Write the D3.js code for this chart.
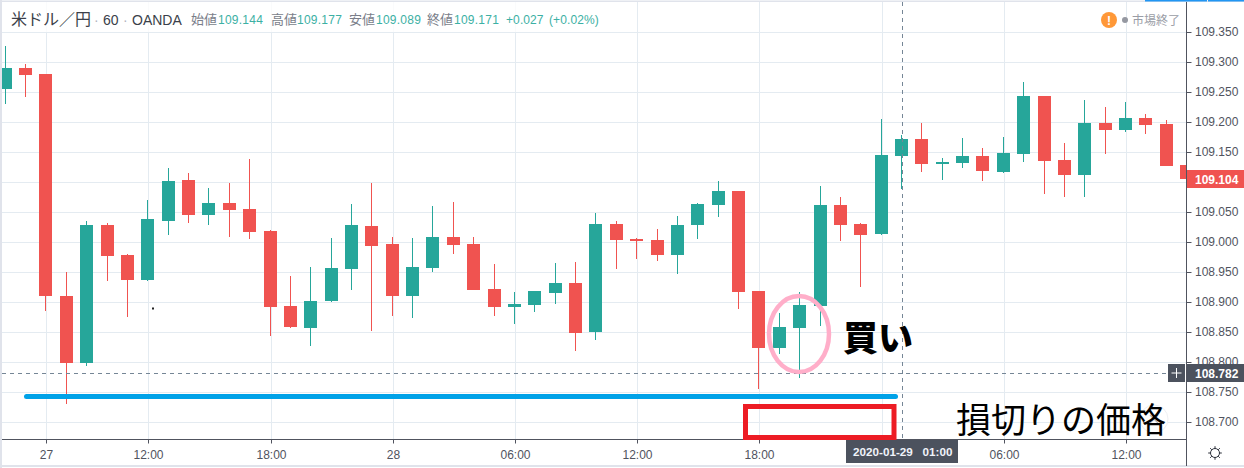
<!DOCTYPE html>
<html lang="ja"><head><meta charset="utf-8">
<script src="https://cdnjs.cloudflare.com/ajax/libs/d3/7.8.5/d3.min.js"></script>
<style>
html,body{margin:0;padding:0;background:#fff;overflow:hidden}
svg{display:block}
text{font-family:"Liberation Sans",Arial,sans-serif}
.jp{font-family:"Noto Sans CJK JP",sans-serif}
</style></head><body><div id="chart"></div>
<script>
const opens =[109.254,109.289,109.279,108.910,108.799,109.028,108.978,108.936,109.035,109.103,109.045,109.065,109.055,109.018,108.893,108.857,108.901,108.955,109.026,108.996,108.910,108.956,109.008,108.996,108.921,108.891,108.895,108.915,108.931,108.850,109.030,109.005,109.003,108.978,109.028,109.061,109.085,108.918,108.823,108.857,108.893,109.061,109.030,109.013,109.143,109.171,109.130,109.131,109.143,109.116,109.146,109.243,109.136,109.111,109.198,109.186,109.206,109.196,109.128];
const highs =[109.326,109.296,109.279,108.950,109.035,109.031,108.980,109.070,109.123,109.115,109.090,109.098,109.138,109.020,108.943,108.958,109.006,109.063,109.098,109.008,109.006,109.060,109.066,109.008,108.963,108.916,108.918,108.965,108.966,109.048,109.035,109.006,109.021,109.043,109.065,109.101,109.085,108.918,108.882,108.916,109.093,109.075,109.031,109.204,109.178,109.198,109.140,109.173,109.156,109.174,109.266,109.243,109.164,109.236,109.224,109.233,109.213,109.203,109.128];
const lows  =[109.229,109.241,108.885,108.730,108.793,108.935,108.875,108.935,109.011,109.031,109.028,109.008,109.005,108.843,108.857,108.827,108.900,108.920,108.852,108.877,108.873,108.950,108.980,108.920,108.877,108.863,108.883,108.896,108.818,108.837,108.955,108.971,108.968,108.946,109.005,109.041,108.888,108.755,108.813,108.773,108.860,109.001,108.925,109.011,109.088,109.116,109.103,109.123,109.101,109.115,109.133,109.080,109.075,109.075,109.146,109.183,109.179,109.126,109.103];
const closes=[109.289,109.278,108.910,108.799,109.028,108.976,108.936,109.038,109.101,109.045,109.065,109.053,109.016,108.891,108.858,108.901,108.956,109.028,108.993,108.910,108.958,109.008,108.995,108.920,108.891,108.896,108.918,108.931,108.848,109.030,109.003,109.001,108.978,109.028,109.063,109.085,108.916,108.823,108.858,108.895,109.061,109.028,109.011,109.144,109.171,109.130,109.133,109.143,109.118,109.148,109.243,109.135,109.111,109.198,109.186,109.206,109.194,109.126,109.104];
const priceTicks=[109.35,109.30,109.25,109.20,109.15,109.10,109.05,109.00,108.95,108.90,108.85,108.80,108.75,108.70];
const hiddenPriceTicks=[109.10];
const timeTickIndex=[2,7,13,19,25,31,37,43,49,55];
const timeTickLabels=["27","12:00","18:00","28","06:00","12:00","18:00","","06:00","12:00"];
const legendItems=[["始値","109.144",191,218],["高値","109.177",271,297],["安値","109.089",349,376],["終値","109.171",427,454]];
const lastPrice=109.104, crossPrice=108.782, crossIndex=44, stopPrice=108.7437;

const W=1244,H=468,GREEN="#26a69a",RED="#f05350",GRID="#e4ebf1",AX="#50535e",LBL="#4c525e";
const x=d3.scaleLinear().domain([0,58]).range([5.2,1186.66]);
const y=d3.scaleLinear().domain([108.70,109.35]).range([422.3,31.6]);
const col=i=>Math.floor(x(i));
const gridX=i=>col(i)+1.5;
const py=v=>Math.round(y(v));
const candles=opens.map((o,i)=>({i,o,h:highs[i],l:lows[i],c:closes[i]}));

const svg=d3.select("#chart").append("svg").attr("width",W).attr("height",H);
svg.append("defs").append("clipPath").attr("id","pane").append("rect").attr("x",2).attr("y",2).attr("width",1184).attr("height",437);
svg.append("rect").attr("width",W).attr("height",H).attr("fill","#fff");

// frame
svg.append("rect").attr("x",0).attr("y",0).attr("width",2).attr("height",H).attr("fill","#e0e3eb");
svg.append("rect").attr("x",0).attr("y",0.5).attr("width",W).attr("height",1.5).attr("fill","#e0e3eb");
svg.append("rect").attr("x",0).attr("y",465).attr("width",W).attr("height",2).attr("fill","#e0e3eb");
svg.append("rect").attr("x",1145).attr("y",0).attr("width",62).attr("height",1.5).attr("fill","#2196f3");
svg.append("rect").attr("x",1208).attr("y",0).attr("width",36).attr("height",1.5).attr("fill","#2196f3");

const pane=svg.append("g").attr("clip-path","url(#pane)");
// grid
pane.append("g").selectAll("line").data(priceTicks).join("line")
  .attr("x1",2).attr("x2",1186).attr("y1",d=>py(d)+.5).attr("y2",d=>py(d)+.5).attr("stroke",GRID);
pane.append("g").selectAll("line").data(timeTickIndex).join("line")
  .attr("x1",gridX).attr("x2",gridX).attr("y1",2).attr("y2",439).attr("stroke",GRID);

// candles
const cg=pane.append("g");
const color=d=>d.c>=d.o?GREEN:RED;
cg.selectAll(".wick").data(candles).join("rect").attr("class","wick")
  .attr("x",d=>col(d.i)).attr("width",1).attr("y",d=>py(d.h)).attr("height",d=>Math.max(1,py(d.l)-py(d.h))).attr("fill",color);
cg.selectAll(".body").data(candles).join("rect").attr("class","body")
  .attr("x",d=>col(d.i)-6).attr("width",13)
  .attr("y",d=>py(Math.max(d.o,d.c))).attr("height",d=>Math.max(1,py(Math.min(d.o,d.c))-py(Math.max(d.o,d.c)))).attr("fill",color);

// stray pixel
pane.append("rect").attr("x",152).attr("y",307.5).attr("width",2).attr("height",2).attr("fill","#222");

// crosshair
const cy=py(crossPrice)+.5, cx=col(crossIndex)+1.5;
pane.append("line").attr("x1",2).attr("x2",1186).attr("y1",cy).attr("y2",cy).attr("stroke","#758696").attr("stroke-dasharray","4 4");
pane.append("line").attr("x1",cx).attr("x2",cx).attr("y1",2).attr("y2",439).attr("stroke","#758696").attr("stroke-dasharray","4 4");

// close-button hint under the note
svg.append("circle").attr("cx",1154).attr("cy",419).attr("r",14).attr("fill","#fff").attr("stroke","#eef0f3");
svg.append("path").attr("d","M1150 415L1158 423M1158 415L1150 423").attr("stroke","#b2b5be").attr("stroke-width",1.2);

// legend backdrop and text
svg.append("rect").attr("x",2).attr("y",2).attr("width",601).attr("height",30).attr("fill","#fff").attr("fill-opacity",.8);
const lg=svg.append("g");
lg.append("text").attr("class","jp").attr("x",11).attr("y",25).attr("font-size",16).attr("fill","#3b3f4a").text("米ドル／円");
lg.append("text").attr("x",94).attr("y",25).attr("font-size",14).attr("fill","#b2b5be").text("·");
lg.append("text").attr("x",103).attr("y",25).attr("font-size",14).attr("fill","#3b3f4a").text("60");
lg.append("text").attr("x",123).attr("y",25).attr("font-size",14).attr("fill","#b2b5be").text("·");
lg.append("text").attr("x",132).attr("y",25).attr("font-size",14).attr("fill","#3b3f4a").text("OANDA");
legendItems.forEach(([k,v,kx,vx])=>{
  lg.append("text").attr("class","jp").attr("x",kx).attr("y",24).attr("font-size",13).attr("fill","#7a7e8a").text(k);
  lg.append("text").attr("x",vx).attr("y",24).attr("font-size",12).attr("letter-spacing",".25").attr("fill","#3cb0a4").text(v);
});
lg.append("text").attr("x",506).attr("y",24).attr("font-size",12).attr("letter-spacing",".1").attr("fill","#3cb0a4").text("+0.027");
lg.append("text").attr("x",549).attr("y",24).attr("font-size",12).attr("letter-spacing",".1").attr("fill","#3cb0a4").text("(+0.02%)");

// status
svg.append("circle").attr("cx",1109).attr("cy",20).attr("r",8).attr("fill","#ff9838");
svg.append("text").attr("x",1109).attr("y",24.5).attr("text-anchor","middle").attr("font-size",12).attr("font-weight",700).attr("fill","#fff").text("!");
svg.append("circle").attr("cx",1125).attr("cy",20).attr("r",3).attr("fill","#9598a1");
svg.append("text").attr("class","jp").attr("x",1132).attr("y",24.5).attr("font-size",12).attr("fill","#9a9da6").text("市場終了");

// axes
const yAxis=d3.axisRight(y).tickValues(priceTicks).tickFormat(d=>hiddenPriceTicks.includes(d)?"":d3.format(".3f")(d)).tickSize(5).tickSizeOuter(0);
const yg=svg.append("g").attr("transform","translate(1186.5,0)").call(yAxis);
yg.select(".domain").remove();
yg.selectAll(".tick").attr("transform",d=>`translate(0,${py(d)+.5})`);
yg.selectAll(".tick line").attr("stroke",AX);
yg.selectAll(".tick text").attr("x",8.5).attr("font-size",12).attr("fill",AX).attr("font-family",'"Liberation Sans",Arial,sans-serif');
svg.append("line").attr("x1",1186.5).attr("x2",1186.5).attr("y1",2).attr("y2",466).attr("stroke",AX);

const xAxis=d3.axisBottom(x).tickValues(timeTickIndex).tickFormat((d,i)=>timeTickLabels[i]).tickSize(4).tickSizeOuter(0);
const xg=svg.append("g").attr("transform","translate(0,439.5)").call(xAxis);
xg.select(".domain").remove();
xg.selectAll(".tick").attr("transform",d=>`translate(${gridX(d)},0)`);
xg.selectAll(".tick line").attr("stroke",AX);
xg.selectAll(".tick text").attr("y",10).attr("font-size",12).attr("fill",AX).attr("font-family",'"Liberation Sans",Arial,sans-serif').attr("dy","9");
svg.append("line").attr("x1",2).attr("x2",1187).attr("y1",439.5).attr("y2",439.5).attr("stroke",AX);

// last price label
svg.append("rect").attr("x",1187).attr("y",170).attr("width",57).attr("height",18).attr("fill",RED);
svg.append("text").attr("x",1195).attr("y",183.5).attr("font-size",12).attr("font-weight",700).attr("fill","#fff").text(d3.format(".3f")(lastPrice));

// crosshair labels
svg.append("rect").attr("x",1168).attr("y",364).attr("width",17).attr("height",18).attr("fill",LBL);
svg.append("path").attr("d","M1176.5 368V378M1171.5 373H1181.5").attr("stroke","#fff");
svg.append("rect").attr("x",1187).attr("y",364).attr("width",57).attr("height",18).attr("fill",LBL);
svg.append("text").attr("x",1195).attr("y",377.5).attr("font-size",12).attr("font-weight",700).attr("fill","#fff").text(d3.format(".3f")(crossPrice));
svg.append("rect").attr("x",846).attr("y",440).attr("width",112).attr("height",23).attr("fill",LBL);
svg.append("text").attr("x",853).attr("y",456).attr("font-size",11.7).attr("font-weight",700).attr("fill","#f0f3fa").style("white-space","pre").text("2020-01-29   01:00");

// settings icon
const gear=svg.append("g").attr("transform","translate(1215,453)").attr("stroke","#2a2e39").attr("fill","none");
gear.append("circle").attr("r",4.5);
d3.range(8).forEach(k=>{const a=k*Math.PI/4;gear.append("line").attr("x1",4.5*Math.cos(a)).attr("y1",4.5*Math.sin(a)).attr("x2",6.8*Math.cos(a)).attr("y2",6.8*Math.sin(a));});

// hand-drawn annotations
svg.append("line").attr("x1",26.5).attr("x2",895.5).attr("y1",py(stopPrice)+.5).attr("y2",py(stopPrice)+.5).attr("stroke","#00a2e8").attr("stroke-width",5).attr("stroke-linecap","round");
svg.append("rect").attr("x",745.5).attr("y",406.5).attr("width",148.5).attr("height",31).attr("fill","none").attr("stroke","#ed1c24").attr("stroke-width",5);
svg.append("ellipse").attr("cx",799).attr("cy",334).attr("rx",30).attr("ry",38).attr("fill","none").attr("stroke","#ffaec9").attr("stroke-width",4.5);
svg.append("text").attr("class","jp").attr("x",843).attr("y",351).attr("font-size",35).attr("font-weight",900).attr("fill","#000").text("買い");
svg.append("text").attr("class","jp").attr("x",956).attr("y",433).attr("font-size",35).attr("font-weight",400).attr("fill","#000").text("損切りの価格");
</script></body></html>
